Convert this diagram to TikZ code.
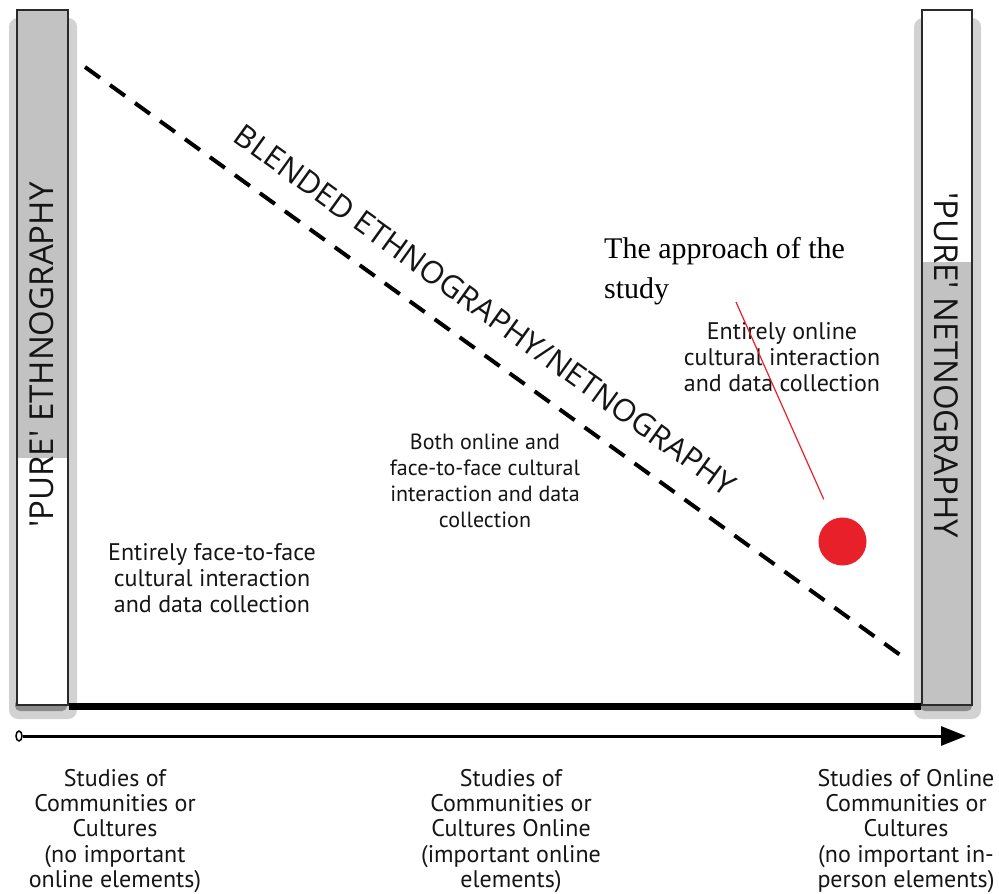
\documentclass[tikz,border=0pt]{standalone}
\usepackage{fontspec}
\setmainfont{PT Sans}
\newfontfamily\capsface{Open Sans}
\newfontfamily\serifface{Liberation Serif}
\usetikzlibrary{arrows.meta,shapes.geometric}
\definecolor{bargray}{HTML}{C2C2C2}
\definecolor{barline}{HTML}{2A2A2A}
\definecolor{glow}{HTML}{D2D2D2}
\definecolor{glowdark}{HTML}{8C8C8C}
\definecolor{ink}{HTML}{151515}
\definecolor{dotred}{HTML}{E8202A}
\begin{document}
\begin{tikzpicture}[x=1pt,y=-1pt,
  barframe/.style={draw=barline, line width=2pt, inner sep=0pt},
  zonetext/.style={align=center, font=\fontsize{22}{26}\selectfont, text=ink, inner sep=0pt},
  sidetext/.style={zonetext, font=\fontsize{24}{26}\selectfont},
  axislabel/.style={align=center, font=\fontsize{24}{25.4}\selectfont, text=ink, inner sep=0pt},
  bartext/.style={font=\capsface\fontsize{33}{33}\selectfont, text=ink, inner sep=0pt, anchor=base},
]
\useasboundingbox[fill=white] (0,0) rectangle (999,894);

% soft glow behind the two end bars
\fill[glow, rounded corners=9pt] (9,18) rectangle (77,719);
\fill[glowdark, rounded corners=5pt] (15,699) rectangle (67,711);
\fill[glow, rounded corners=9pt] (914,18) rectangle (981,719);
\fill[glowdark, rounded corners=5pt] (920,699) rectangle (972,711);

% left bar: grey upper part, white lower part
\fill[white] (17,10) rectangle (68,705);
\fill[bargray] (17,10) rectangle (68,458);
\node[barframe, minimum width=51pt, minimum height=695pt] (lbar) at (42.5,357.5) {};

% right bar: white upper part, grey lower part
\fill[white] (922,10) rectangle (972,705);
\fill[bargray] (922,262) rectangle (972,705);
\node[barframe, minimum width=50pt, minimum height=695pt] (rbar) at (947,357.5) {};

\node[bartext, rotate=90] (ltxt) at (53,355) {'PURE' ETHNOGRAPHY};
\node[bartext, rotate=-90] (rtxt) at (934,365) {'PURE' NETNOGRAPHY};

% base line joining the bars
\draw[line width=7pt, black] (lbar.south east) -- (rbar.south west);

% axis arrow
\node[ellipse, draw, line width=1.5pt, fill=white, minimum width=6pt, minimum height=10pt, inner sep=0pt] (origin) at (19,736) {};
\coordinate (axend) at (966,736);
\draw[line width=3pt, -{Triangle[length=25pt,width=19pt]}] (origin.east) -- (axend);

% diagonal dashed divider
\coordinate (dstart) at (85,67);
\coordinate (dend) at (903,657);
\draw[line width=4pt, dash pattern=on 18.5pt off 12.3pt] (dstart) -- (dend);
\node[font=\capsface\fontsize{31}{31}\selectfont, text=ink, rotate=-35.8, anchor=base, inner sep=0pt] (blend) at (479,319) {BLENDED ETHNOGRAPHY/NETNOGRAPHY};

% zone descriptions
\node[zonetext] (both) at (485,481) {Both online and\\face-to-face cultural\\interaction and data\\collection};
\node[sidetext] (f2f) at (212,578) {Entirely face-to-face\\cultural interaction\\and data collection};
\node[sidetext] (online) at (782,357) {Entirely online\\cultural interaction\\and data collection};

% axis labels
\node[axislabel] (lab1) at (115,831) {Studies of\\Communities or\\Cultures\\(no important\\online elements)};
\node[axislabel] (lab2) at (511,831) {Studies of\\Communities or\\Cultures Online\\(important online\\elements)};
\node[axislabel] (lab3) at (906,831) {Studies of Online\\Communities or\\Cultures\\(no important in-\\person elements)};

% position of the study
\node[font=\serifface\fontsize{30}{40}\selectfont, align=left, anchor=north west, inner sep=0pt] (approach) at (604,237) {The approach of the\\study};
\coordinate (lead) at (736,302);
\node[circle, fill=dotred, minimum size=48pt, inner sep=0pt] (dot) at (842.5,541.5) {};
\draw[dotred, line width=1.2pt, shorten >=22pt] (lead) -- (dot);
\end{tikzpicture}
\end{document}
